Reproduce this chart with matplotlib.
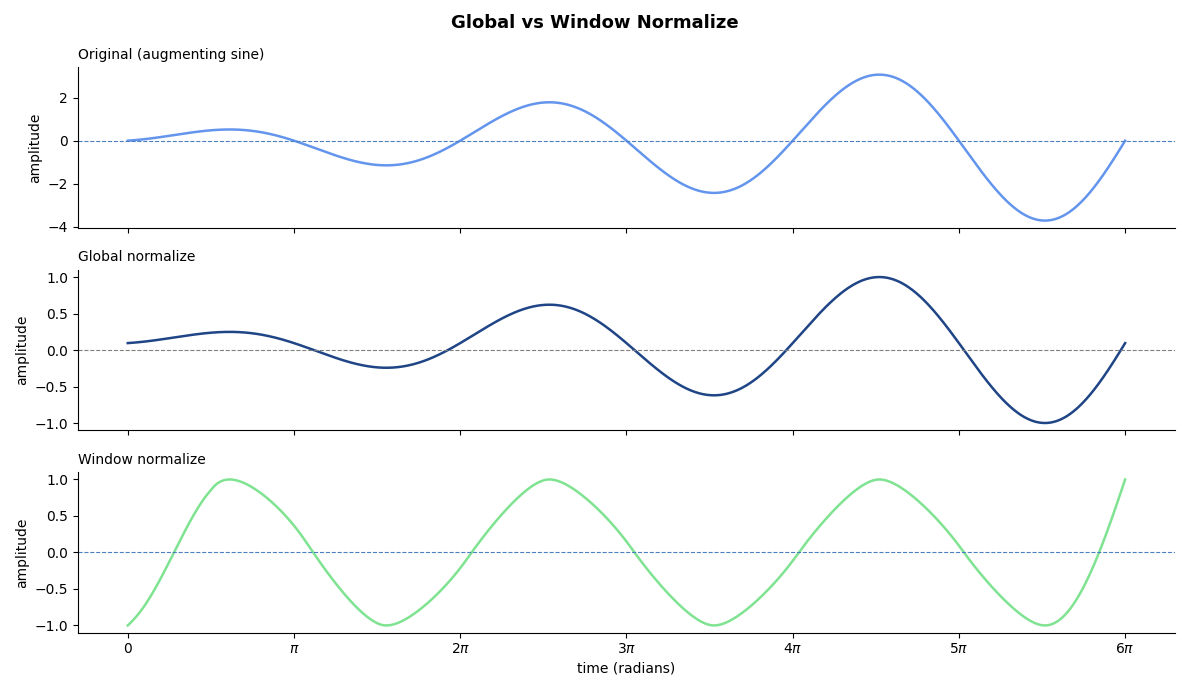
import numpy as np
import pandas as pd
import matplotlib.pyplot as plt

# signal settings
n_samples = 1000
t_end = 6 * np.pi
amp_base = 0.16     # amplitude at t=0
amp_slope = 0.205   # amplitude growth per radian
window_len = 167    # samples in the centred rolling window (~pi)

tick_pos = [0, np.pi, 2 * np.pi, 3 * np.pi, 4 * np.pi, 5 * np.pi, 6 * np.pi]
tick_labels = ["0", r"$\pi$", r"$2\pi$", r"$3\pi$", r"$4\pi$", r"$5\pi$", r"$6\pi$"]

t = np.linspace(0, t_end, n_samples)
y = (amp_base + amp_slope * t) * np.sin(t)

# global min-max to [-1, 1]
y_global = (y - y.min()) / (y.max() - y.min()) * 2 - 1

# rolling window min-max to [-1, 1]
s = pd.Series(y)
lo = s.rolling(window_len, center=True, min_periods=1).min()
hi = s.rolling(window_len, center=True, min_periods=1).max()
y_window = ((s - lo) / (hi - lo) * 2 - 1).to_numpy()

fig, axes = plt.subplots(3, 1, figsize=(11.9, 6.91), sharex=True)
panels = [
    ("Original (augmenting sine)", y, "#6495ed", "#4a7fc0"),
    ("Global normalize", y_global, "#1f4586", "grey"),
    ("Window normalize", y_window, "#7fe391", "#4a7fc0"),
]
for ax, (title, vals, col, zcol) in zip(axes, panels):
    ax.plot(t, vals, color=col, lw=1.8)
    ax.axhline(0, color=zcol, ls="--", lw=0.8)
    ax.set_title(title, loc="left", fontsize=10)
    ax.set_ylabel("amplitude")
    ax.spines["top"].set_visible(False)
    ax.spines["right"].set_visible(False)

axes[0].set_yticks([-4, -2, 0, 2])
axes[1].set_yticks([-1.0, -0.5, 0.0, 0.5, 1.0])
axes[2].set_yticks([-1.0, -0.5, 0.0, 0.5, 1.0])
axes[2].set_xticks(tick_pos)
axes[2].set_xticklabels(tick_labels)
axes[2].set_xlabel("time (radians)")

fig.suptitle("Global vs Window Normalize", fontweight="bold", fontsize=13)
fig.tight_layout()
fig.savefig("out.png", dpi=100)
